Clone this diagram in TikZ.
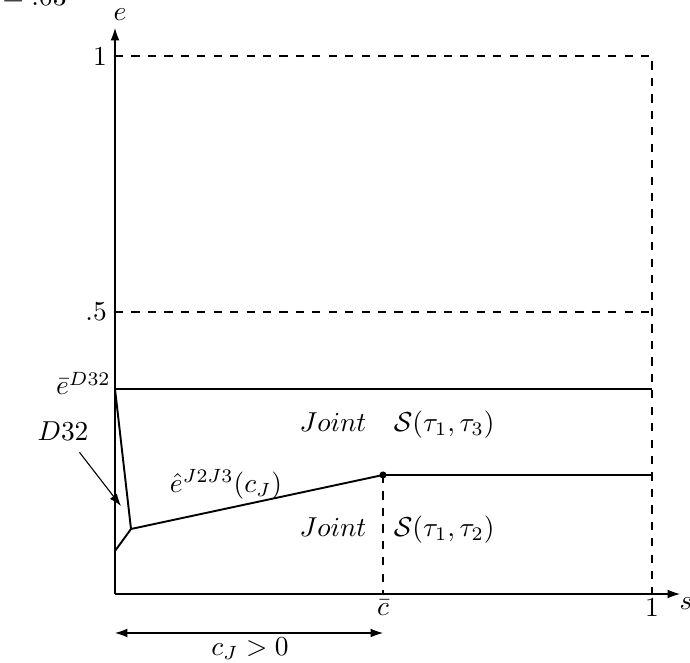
\documentclass[tikz,border=0pt]{standalone}
\usetikzlibrary{arrows.meta}
\begin{document}
\begin{tikzpicture}[
  x=0.365pt, y=-0.365pt,
  axis/.style={-{Latex[length=4.5pt,width=3.2pt]}},
  guide/.style={dashed},
  bound/.style={line width=0.7pt},
  lbl/.style={inner sep=1pt}
]
\useasboundingbox (0,0) rectangle (690,663);

% cut-off note at the top
\node[anchor=base west, inner sep=0] (note) at (2,6) {$=.03$};

% axes
\coordinate (O) at (115,594);
\coordinate (ytip) at (115,28);
\coordinate (xtip) at (680,594);
\draw[axis] (O) -- (ytip);
\draw[axis] (O) -- (xtip);
\node[lbl] (elab) at (120,15) {$e$};
\node[lbl] (slab) at (686,604) {$s$};

% grid lines at e = 1 and e = .5, s = 1
\coordinate (e1) at (115,56);
\coordinate (e1r) at (652,56);
\coordinate (s1) at (652,594);
\coordinate (e5) at (115,312);
\coordinate (e5r) at (652,312);
\draw[guide] (e1) -- (e1r) -- (s1);
\draw[guide] (e5) -- (e5r);
\node[lbl, anchor=east] (one) at (110,56) {1};
\node[lbl, anchor=east] (half) at (110,312) {.5};
\node[lbl] (sone) at (652,607) {1};

% upper boundary
\coordinate (eD) at (115,389);
\coordinate (eDr) at (652,389);
\draw (eD) -- (eDr);
\node[anchor=base east, inner sep=1pt] (eDlab) at (114,395) {$\bar{e}^{D32}$};

% J2/J3 boundary
\coordinate (kink) at (131,529);
\coordinate (low) at (115,551);
\coordinate (cb) at (383,475);
\coordinate (cbr) at (652,475);
\coordinate (cbax) at (383,594);
\draw[bound] (eD) -- (kink) -- (cb);
\draw[bound] (low) -- (kink);
\draw (cb) -- (cbr);
\fill (cb) circle (1.3pt);
\draw[guide] (cb) -- (cbax);
\node[lbl] (cbar) at (383,608) {$\bar{c}$};
\node[lbl] (ehat) at (226,484) {$\hat{e}^{J2J3}(c_J)$};

% D32 pointer
\node[lbl] (D32) at (63,431) {$D32$};
\coordinate (d32tip) at (121,506);
\draw[-{Latex[length=4.5pt,width=3.2pt]}, shorten <=4pt] (D32) -- (d32tip);

% regions
\node[lbl] (J13) at (397,425) {$Joint \quad \mathcal{S}(\tau_1,\tau_3)$};
\node[lbl] (J12) at (397,530) {$Joint \quad \mathcal{S}(\tau_1,\tau_2)$};

% width of c_J
\coordinate (cl) at (115,633);
\coordinate (cr) at (383,633);
\draw[{Latex[length=4.5pt,width=3.2pt]}-{Latex[length=4.5pt,width=3.2pt]}] (cl) -- (cr);
\node[lbl] (cJ) at (250,649) {$c_J > 0$};

\end{tikzpicture}
\end{document}
